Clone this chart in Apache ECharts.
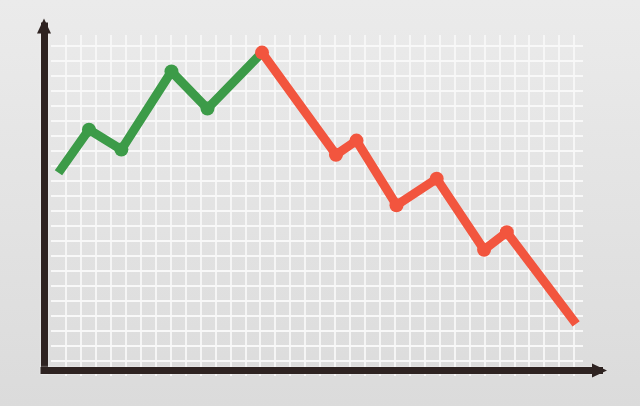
<!DOCTYPE html>
<html>
<head>
<meta charset="utf-8">
<script src="https://cdn.jsdelivr.net/npm/echarts@6/dist/echarts.min.js"></script>
<style>
  html, body { margin: 0; padding: 0; }
  #chart { width: 640px; height: 406px; }
</style>
</head>
<body>
<div id="chart"></div>
<script>
// rising part (green) and falling part (red), in grid-cell units
const upX = [-0.5, 1.54, 3.71, 7.06, 9.47, 13.12];
const upY = [12.53, 15.4, 14.07, 19.27, 16.8, 20.53];
const downX = [13.12, 18.07, 19.44, 22.12, 24.81, 27.98, 29.5, 34.14];
const downY = [20.53, 13.73, 14.67, 10.37, 12.13, 7.4, 8.57, 2.47];

const axisColor = "#2e2321";
const green = "#3c9b48";
const red = "#f2553e";
const gridLine = { show: true, showMinLine: false, showMaxLine: false, lineStyle: { color: "#f8f8f8", width: 1.8 } };

function toPoints(xs, ys, openStart) {
  return xs.map((x, i) => ({
    value: [x, ys[i]],
    symbol: i === xs.length - 1 || (i === 0 && openStart) ? "none" : "circle",
  }));
}

const chart = echarts.init(document.getElementById("chart"));

const hidden = {
  axisLine: { show: false },
  axisTick: { show: false },
  axisLabel: { show: false },
};

// plain axis with an arrow at its end, used for the two dark axes
const arrowAxis = {
  type: "value", gridIndex: 1, min: 0, max: 1,
  axisTick: { show: false },
  axisLabel: { show: false },
  splitLine: { show: false },
  axisLine: {
    show: true, symbol: ["none", "triangle"], symbolSize: [14, 15],
    lineStyle: {
      color: axisColor, width: 7, cap: "square",
      shadowColor: "rgba(250,250,250,0.9)", shadowBlur: 2,
    },
  },
};

chart.setOption({
  backgroundColor: new echarts.graphic.LinearGradient(0, 0, 0, 1, [
    { offset: 0, color: "#ebebeb" },
    { offset: 1, color: "#dbdbdb" },
  ]),
  animation: false,
  grid: [
    { left: 51, right: 57, top: 35, bottom: 30 },
    { left: 44, right: 40.5, top: 26, bottom: 35.5 },
  ],
  xAxis: [
    { type: "value", gridIndex: 0, min: -1, max: 34.6, interval: 1, ...hidden, splitLine: gridLine },
    arrowAxis,
  ],
  yAxis: [
    { type: "value", gridIndex: 0, min: -1, max: 21.7, interval: 1, ...hidden, splitLine: gridLine },
    arrowAxis,
  ],
  series: [
    {
      type: "line",
      xAxisIndex: 0, yAxisIndex: 0,
      data: toPoints(upX, upY, true),
      symbolSize: 14,
      lineStyle: { color: green, width: 9, join: "round" },
      itemStyle: { color: green, borderWidth: 0 },
      z: 3,
    },
    {
      type: "line",
      xAxisIndex: 0, yAxisIndex: 0,
      data: toPoints(downX, downY, false),
      symbolSize: 14,
      lineStyle: { color: red, width: 9, join: "round" },
      itemStyle: { color: red, borderWidth: 0 },
      z: 4,
    },
  ],
});
</script>
</body>
</html>
